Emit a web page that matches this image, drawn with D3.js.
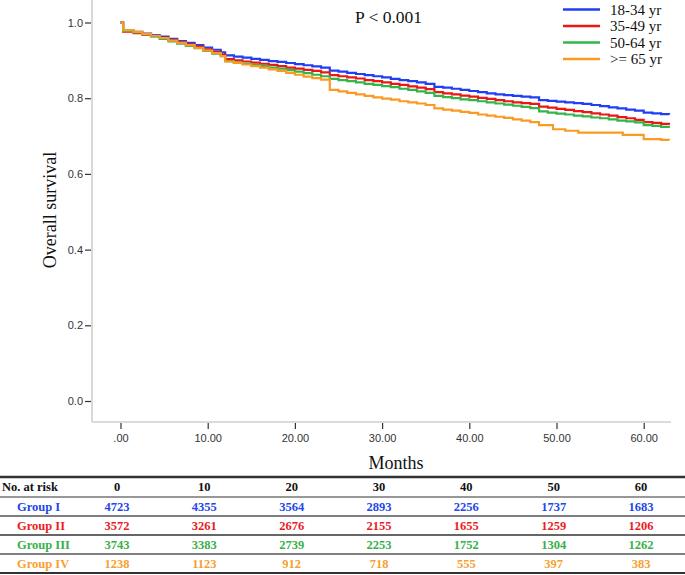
<!DOCTYPE html>
<html><head><meta charset="utf-8">
<script src="https://cdn.jsdelivr.net/npm/d3@7"></script>
<style>body{margin:0;background:#fff}svg{display:block}</style>
</head><body>
<svg id="c" width="685" height="575"></svg>
<script>
// ---------- data ----------
const groups = ["18-34 yr", "35-49 yr", "50-64 yr", ">= 65 yr"];
const groupLabels = ["Group I", "Group II", "Group III", "Group IV"];
const colors = ["#1f3ff5", "#ee1515", "#33b54a", "#fb9a22"];
const tableColors = ["#2446ea", "#ea1c1c", "#38b04a", "#f7a030"];
const xTicks = [0, 10, 20, 30, 40, 50, 60];
const xTickLabels = [".00", "10.00", "20.00", "30.00", "40.00", "50.00", "60.00"];
const yTicks = [0, 0.2, 0.4, 0.6, 0.8, 1.0];
const riskTimes = ["0", "10", "20", "30", "40", "50", "60"];

const survBlue = [[0,1.000],[0.3,0.978],[1.5,0.975],[2.5,0.971],[3.5,0.967],[4.5,0.963],[5.5,0.957],[6.5,0.951],[7.5,0.946],[8.5,0.940],[9.5,0.934],[10.5,0.928],[11.5,0.921],[12,0.913],[13,0.910],[14,0.907],[15,0.904],[16,0.901],[17,0.898],[18,0.896],[19,0.893],[20,0.890],[21,0.887],[22,0.884],[23,0.881],[24,0.873],[25,0.870],[26,0.867],[27,0.864],[28,0.861],[29,0.858],[30,0.855],[31,0.851],[32,0.848],[33,0.845],[34,0.842],[35,0.838],[36,0.830],[37,0.828],[38,0.825],[39,0.822],[40,0.819],[41,0.816],[42,0.813],[43,0.810],[44,0.808],[45,0.806],[46,0.804],[47,0.802],[48,0.795],[49,0.793],[50,0.791],[51,0.789],[52,0.787],[53,0.785],[54,0.782],[55,0.779],[56,0.776],[57,0.773],[58,0.770],[59,0.767],[60,0.762],[61,0.760],[62,0.758],[62.9,0.756]];
const survRed = [[0,1.000],[0.3,0.976],[1.5,0.972],[2.5,0.968],[3.5,0.964],[4.5,0.960],[5.5,0.954],[6.5,0.948],[7.5,0.942],[8.5,0.936],[9.5,0.929],[10.5,0.922],[11.5,0.915],[12,0.903],[13,0.900],[14,0.897],[15,0.894],[16,0.891],[17,0.888],[18,0.885],[19,0.881],[20,0.878],[21,0.875],[22,0.872],[23,0.868],[24,0.861],[25,0.858],[26,0.855],[27,0.852],[28,0.848],[29,0.845],[30,0.842],[31,0.838],[32,0.835],[33,0.831],[34,0.828],[35,0.824],[36,0.816],[37,0.813],[38,0.810],[39,0.807],[40,0.804],[41,0.801],[42,0.798],[43,0.795],[44,0.792],[45,0.789],[46,0.787],[47,0.785],[48,0.778],[49,0.775],[50,0.772],[51,0.769],[52,0.766],[53,0.763],[54,0.760],[55,0.757],[56,0.754],[57,0.750],[58,0.747],[59,0.743],[60,0.737],[61,0.735],[62,0.732],[62.9,0.730]];
const survGreen = [[0,1.000],[0.3,0.978],[1.5,0.974],[2.5,0.969],[3.5,0.963],[4.5,0.957],[5.5,0.950],[6.5,0.944],[7.5,0.938],[8.5,0.932],[9.5,0.925],[10.5,0.918],[11.5,0.911],[12,0.898],[13,0.894],[14,0.891],[15,0.888],[16,0.885],[17,0.881],[18,0.878],[19,0.874],[20,0.870],[21,0.866],[22,0.862],[23,0.858],[24,0.851],[25,0.848],[26,0.845],[27,0.842],[28,0.838],[29,0.835],[30,0.832],[31,0.829],[32,0.825],[33,0.822],[34,0.818],[35,0.814],[36,0.806],[37,0.803],[38,0.800],[39,0.797],[40,0.795],[41,0.792],[42,0.789],[43,0.786],[44,0.783],[45,0.780],[46,0.777],[47,0.774],[48,0.765],[49,0.762],[50,0.759],[51,0.757],[52,0.754],[53,0.752],[54,0.749],[55,0.747],[56,0.744],[57,0.741],[58,0.739],[59,0.736],[60,0.729],[61,0.727],[62,0.724],[62.9,0.722]];
const survOrange = [[0,1.000],[0.3,0.980],[1.5,0.975],[2.5,0.970],[3.5,0.965],[4.5,0.959],[5.5,0.952],[6.5,0.946],[7.5,0.940],[8.5,0.933],[9.5,0.926],[10.5,0.919],[11.5,0.911],[12,0.897],[13,0.893],[14,0.889],[15,0.885],[16,0.881],[17,0.876],[18,0.872],[19,0.867],[20,0.862],[21,0.857],[22,0.853],[23,0.849],[24,0.822],[25,0.818],[26,0.814],[27,0.810],[28,0.806],[29,0.802],[30,0.799],[31,0.796],[32,0.792],[33,0.789],[34,0.786],[35,0.782],[36,0.773],[37,0.770],[38,0.767],[39,0.764],[40,0.761],[41,0.757],[42,0.754],[43,0.751],[44,0.748],[45,0.744],[46,0.741],[47,0.737],[48,0.729],[49.6,0.718],[51,0.714],[52.5,0.709],[57.6,0.703],[60,0.692],[62,0.690],[62.9,0.689]];
const curves = [survBlue, survRed, survGreen, survOrange];

const riskI   = [4723, 4355, 3564, 2893, 2256, 1737, 1683];
const riskII  = [3572, 3261, 2676, 2155, 1655, 1259, 1206];
const riskIII = [3743, 3383, 2739, 2253, 1752, 1304, 1262];
const riskIV  = [1238, 1123, 912, 718, 555, 397, 383];
const riskRows = [riskI, riskII, riskIII, riskIV];

// ---------- drawing ----------
const svg = d3.select("#c");
const x = d3.scaleLinear().domain([0, 60]).range([120.5, 643.7]);
const y = d3.scaleLinear().domain([0, 1]).range([401, 22.5]);
const serif = "'Liberation Serif','Times New Roman',Times,serif";
const sans = "'Liberation Sans',Arial,Helvetica,sans-serif";

// axis frame lines (light grey)
svg.append("line").attr("x1", 92).attr("x2", 92).attr("y1", 0).attr("y2", 422)
  .attr("stroke", "#cfcfcf").attr("stroke-width", 1.6);
svg.append("line").attr("x1", 92).attr("x2", 671).attr("y1", 422).attr("y2", 422)
  .attr("stroke", "#cfcfcf").attr("stroke-width", 1.6);

// y axis ticks
const yAxis = d3.axisLeft(y).tickValues(yTicks).tickFormat(d3.format(".1f")).tickSize(6).tickPadding(2);
const gy = svg.append("g").attr("transform", "translate(91,0)").call(yAxis);
gy.select(".domain").remove();
gy.selectAll(".tick line").attr("stroke", "#333").attr("stroke-width", 1.2);
gy.selectAll(".tick text").attr("font-family", sans).attr("font-size", 11).attr("fill", "#333");

// x axis ticks
const xAxis = d3.axisBottom(x).tickValues(xTicks).tickFormat((d, i) => xTickLabels[i]).tickSize(6).tickPadding(5);
const gx = svg.append("g").attr("transform", "translate(0,423)").call(xAxis);
gx.select(".domain").remove();
gx.selectAll(".tick line").attr("stroke", "#333").attr("stroke-width", 1.2);
gx.selectAll(".tick text").attr("font-family", sans).attr("font-size", 11).attr("fill", "#333");

// axis titles
svg.append("text").attr("x", 396).attr("y", 469).attr("text-anchor", "middle")
  .attr("font-family", serif).attr("font-size", 18).attr("fill", "#111").text("Months");
svg.append("text").attr("transform", "translate(56,210) rotate(-90)").attr("text-anchor", "middle")
  .attr("font-family", serif).attr("font-size", 18).attr("fill", "#111").text("Overall survival");

// p-value
svg.append("text").attr("x", 355).attr("y", 23).attr("font-family", serif).attr("font-size", 17.5)
  .attr("fill", "#111").text("P < 0.001");

// curves
const line = d3.line().x(d => x(d[0])).y(d => y(d[1])).curve(d3.curveStepAfter);
curves.forEach((c, i) => {
  svg.append("path").datum(c).attr("d", line).attr("fill", "none")
    .attr("stroke", colors[i]).attr("stroke-width", 2.2);
});

// legend
const leg = svg.append("g");
groups.forEach((g, i) => {
  const yy = 9.5 + i * 16.5;
  leg.append("line").attr("x1", 563).attr("x2", 600).attr("y1", yy).attr("y2", yy)
    .attr("stroke", colors[i]).attr("stroke-width", 2.5);
  leg.append("text").attr("x", 610).attr("y", yy + 5).attr("font-family", serif).attr("font-size", 15)
    .attr("fill", "#111").text(g);
});

// risk table
const tx = d3.scaleLinear().domain([0, 6]).range([117, 641]);
const tb = svg.append("g");
const hlines = [[477, "#333", 2.4], [497, "#333", 1.2], [516, "#555", 1.4], [535, "#666", 1.8], [554, "#555", 1.4], [573, "#333", 2]];
hlines.forEach(h => tb.append("line").attr("x1", 0).attr("x2", 685).attr("y1", h[0]).attr("y2", h[0])
  .attr("stroke", h[1]).attr("stroke-width", h[2]));
tb.append("text").attr("x", 2).attr("y", 491).attr("font-family", serif).attr("font-weight", "bold")
  .attr("font-size", 12.5).attr("fill", "#111").text("No. at risk");
riskTimes.forEach((t, j) => tb.append("text").attr("x", tx(j)).attr("y", 491).attr("text-anchor", "middle")
  .attr("font-family", serif).attr("font-weight", "bold").attr("font-size", 12.5).attr("fill", "#111").text(t));
riskRows.forEach((row, i) => {
  const yy = 510.5 + i * 19.2;
  tb.append("text").attr("x", 17).attr("y", yy).attr("font-family", serif).attr("font-weight", "bold")
    .attr("font-size", 12.5).attr("fill", tableColors[i]).text(groupLabels[i]);
  row.forEach((v, j) => tb.append("text").attr("x", tx(j)).attr("y", yy).attr("text-anchor", "middle")
    .attr("font-family", serif).attr("font-weight", "bold").attr("font-size", 12.5)
    .attr("fill", tableColors[i]).text(v));
});
</script>
</body></html>
